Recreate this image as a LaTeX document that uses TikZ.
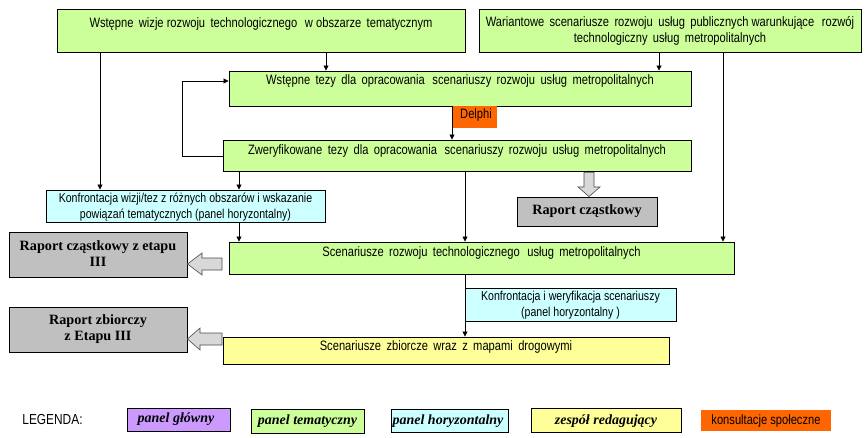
\documentclass[tikz,border=0pt]{standalone}
\usepackage{fontspec}
\setmainfont{Liberation Sans}
\newfontfamily\timesf{Liberation Serif}
\newfontfamily\condf[FakeStretch=0.82]{Liberation Sans}
\usetikzlibrary{arrows.meta,calc}
\definecolor{tgreen}{HTML}{CCFF99}
\definecolor{tcyan}{HTML}{CCFFFF}
\definecolor{tyellow}{HTML}{FFFF99}
\definecolor{tgray}{HTML}{C0C0C0}
\definecolor{torange}{HTML}{FF6600}
\definecolor{tpurple}{HTML}{CC99FF}
\definecolor{barrow}{HTML}{D8D8D8}
\begin{document}
\begin{tikzpicture}[x=1pt,y=-1pt,
  box/.style={draw=black,line width=0.9pt,rectangle,inner sep=0pt},
  txt/.style={inner sep=0pt,font=\condf\fontsize{13.6}{16}\selectfont,align=center},
  stxt/.style={inner sep=0pt,font=\condf\fontsize{12.9}{16}\selectfont,align=center},
  rtxt/.style={inner sep=0pt,font=\timesf\bfseries\fontsize{14.2}{16}\selectfont,align=center},
  ltxt/.style={inner sep=0pt,font=\timesf\bfseries\itshape\fontsize{14}{14}\selectfont},
  arr/.style={line width=0.8pt,-{Triangle[length=5pt,width=5pt]}},
  blk/.style={draw=black!70,line width=0.6pt,fill=barrow}]
\useasboundingbox (0,0) rectangle (866,438);
% boxes
\node[box,fill=tgreen,minimum width=408pt,minimum height=43pt] (A) at (261,30.5) {};
\node[txt] (At) at (261,24) {Wstępne\, wizje rozwoju\, technologicznego\,\, w obszarze\, tematycznym};
\node[box,fill=tgreen,minimum width=382pt,minimum height=43pt] (B) at (670,30.5) {};
\node[txt] (Bt) at (670,31) {Wariantowe\, scenariusze\, rozwoju\, usług\, publicznych warunkujące\,\, rozwój\\technologiczny\, usług\, metropolitalnych};
\node[box,fill=tgreen,minimum width=462pt,minimum height=35pt] (C) at (460,88.5) {};
\node[txt] (Ct) at (460,81) {Wstępne\, tezy\, dla\, opracowania\,\, scenariuszy\, rozwoju\, usług\, metropolitalnych};
\node[fill=torange,minimum width=44pt,minimum height=22pt,inner sep=0pt] (Del) at (475,117) {};
\node[txt] (Delt) at (476,115) {Delphi};
\node[box,fill=tgreen,minimum width=468pt,minimum height=31pt] (D) at (457,155.5) {};
\node[txt] (Dt) at (457,151) {Zweryfikowane\, tezy\, dla\, opracowania\,\, scenariuszy\, rozwoju\, usług\, metropolitalnych};
\node[box,fill=tcyan,minimum width=279pt,minimum height=32pt] (E) at (185.5,206) {};
\node[stxt] (Et) at (185.5,207) {Konfrontacja wizji/tez z różnych obszarów i wskazanie\\powiązań tematycznych (panel horyzontalny)};
\node[box,fill=tgray,minimum width=140pt,minimum height=29pt] (G) at (587,211.5) {};
\node[rtxt] (Gt) at (587,211) {Raport cząstkowy};
\node[box,fill=tgreen,minimum width=505pt,minimum height=32pt] (F) at (481.5,258) {};
\node[txt] (Ft) at (481.5,253) {Scenariusze\, rozwoju\, technologicznego\,\, usług\, metropolitalnych};
\node[box,fill=tgray,minimum width=178pt,minimum height=45pt] (H) at (98,254.5) {};
\node[rtxt] (Ht) at (98,254) {Raport cząstkowy z etapu\\III};
\node[box,fill=tcyan,minimum width=211pt,minimum height=33pt] (I) at (570.5,304.5) {};
\node[stxt] (It) at (570.5,305) {Konfrontacja i weryfikacja scenariuszy\\(panel horyzontalny )};
\node[box,fill=tyellow,minimum width=446pt,minimum height=27pt] (J) at (446,350.5) {};
\node[txt] (Jt) at (446,347) {Scenariusze\, zbiorcze\, wraz\, z\, mapami\, drogowymi};
\node[box,fill=tgray,minimum width=178pt,minimum height=45pt] (K) at (98,329.5) {};
\node[rtxt] (Kt) at (98,329.5) {Raport zbiorczy\\z Etapu III};
% connectors
\draw[arr] (A.south -| 326,0) -- (C.north -| 326,0);
\draw[arr] (B.south -| 659,0) -- (C.north -| 659,0);
\draw[arr] (A.south -| 100,0) -- (E.north -| 100,0);
\draw[arr] (B.south -| 723,0) -- (F.north -| 723,0);
\draw[arr] (C.south -| 452,0) -- (D.north -| 452,0);
\draw[arr] (D.west |- 0,156) -- (182,156) -- (182,81) -- (C.west |- 0,81);
\draw[arr] (D.south -| 239,0) -- (E.north -| 239,0);
\draw[arr] (E.south -| 239,0) -- (F.north -| 239,0);
\draw[arr] (D.south -| 465,0) -- (F.north -| 465,0);
\draw[arr] (F.south -| 465,0) -- (J.north -| 465,0);
% block arrows
\draw[blk] ($(D.south -| 584,0)+(0,1)$) -- (584,187) -- (578,187) -- (G.north -| 589,0) -- (600,187) -- (594,187) -- ($(D.south -| 594,0)+(0,1)$) -- cycle;
\draw[blk] (222,258) -- (202,258) -- (202,253) -- (H.east |- 0,264) -- (202,275) -- (202,270) -- (222,270) -- cycle;
\draw[blk] (222,333) -- (200,333) -- (200,328) -- (K.east |- 0,339) -- (200,350) -- (200,345) -- (222,345) -- cycle;
% legend
\node[inner sep=0pt,font=\condf\fontsize{14.5}{12}\selectfont] (leg) at (52.5,420) {LEGENDA:};
\node[box,fill=tpurple,minimum width=103pt,minimum height=23pt] (L1) at (178.5,419.5) {};
\node[ltxt] (L1t) at (176,419) {panel główny};
\node[box,fill=tgreen,minimum width=113pt,minimum height=24pt] (L2) at (307.5,421) {};
\node[ltxt] (L2t) at (307.5,421) {panel tematyczny};
\node[box,fill=tcyan,minimum width=117pt,minimum height=23pt] (L3) at (449.5,420.5) {};
\node[ltxt] (L3t) at (448,421) {panel horyzontalny};
\node[box,fill=tyellow,minimum width=150pt,minimum height=24pt] (L4) at (606,420.5) {};
\node[ltxt] (L4t) at (606,421) {zespół redagujący};
\node[fill=torange,minimum width=130pt,minimum height=21pt,inner sep=0pt] (L5) at (766,420.5) {};
\node[inner sep=0pt,font=\condf\fontsize{13.6}{12}\selectfont] (L5t) at (766,421) {konsultacje społeczne};
\end{tikzpicture}
\end{document}
